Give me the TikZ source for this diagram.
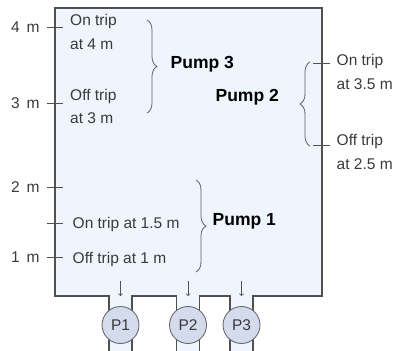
\documentclass[tikz,border=0pt]{standalone}
\usepackage{fontspec}
\setmainfont{Liberation Sans}
\usetikzlibrary{arrows, positioning, decorations.pathreplacing}
\definecolor{tankfill}{HTML}{EEF5FC}
\definecolor{tankline}{HTML}{505050}
\definecolor{pumpfill}{HTML}{D3DBEC}
\definecolor{labelgray}{HTML}{3A3A3A}

\begin{document}
\begin{tikzpicture}[x=1pt, y=-1pt,
    note/.style={inner sep=0pt, anchor=base west, align=left, text=labelgray, font=\fontsize{15.5}{23.5}\selectfont},
    level/.style={inner sep=0pt, text=labelgray, font=\fontsize{15.5}{18}\selectfont},
    pumplabel/.style={inner sep=0pt, anchor=base west, font=\fontsize{17.5}{20}\selectfont\bfseries},
    pump/.style={circle, draw=tankline!85, fill=pumpfill, line width=0.9pt, minimum size=37pt, inner sep=0pt, text=labelgray, font=\fontsize{15.5}{18}\selectfont},
    tick/.style={draw=tankline, line width=0.9pt},
    bracket/.style={draw=tankline!90, line width=0.8pt, decorate, decoration={brace, amplitude=10pt}},
    flow/.style={->, >=to, draw=tankline, line width=0.8pt}]

\useasboundingbox (0,0) rectangle (398,350);

% tank and outlet pipes
\fill[tankfill] (55,8) rectangle (322,296);
\foreach \px in {120.5,188,241.5}
    \fill[tankfill] (\px-11.5,290) rectangle (\px+11.5,352);
\draw[tankline, line width=1.5pt] (109,352) |- (55,296) |- (322,8) |- (253,296) -- (253,352);
\draw[tankline, line width=1.5pt] (132,352) |- (176.5,296) -- (176.5,352);
\draw[tankline, line width=1.5pt] (199.5,352) |- (230,296) -- (230,352);

% pumps
\node[pump] (p1) at (120.5,325) {P1};
\node[pump] (p2) at (188,325) {P2};
\node[pump] (p3) at (241.5,325) {P3};
\foreach \n in {1,2,3}
    \draw[flow] ([yshift=25pt]p\n.north) -- ([yshift=10pt]p\n.north);

% level scale
\foreach \y/\lab in {27/4, 103/3, 187/2, 257/1}
    \draw[tick] (63,\y) -- (47,\y) node[level, left=7pt] {\lab\hspace{7pt}m};
\draw[tick] (63,223) -- (47,223);
\draw[tick] (313,63) -- (330,63);
\draw[tick] (313,145) -- (330,145);

% trip points
\node[note] (on3) at (70,49.5) {On trip\\at 4 m};
\node[note] (off3) at (70,123.5) {Off trip\\at 3 m};
\node[note] (on2) at (336.5,89) {On trip\\at 3.5 m};
\node[note] (off2) at (336.5,169) {Off trip\\at 2.5 m};
\node[note] (on1) at (72.5,228.3) {On trip at 1.5 m};
\node[note] (off1) at (72.5,263.3) {Off trip at 1 m};

% pump ranges
\coordinate (b3top) at (147,20);
\coordinate (b3bot) at (147,113);
\draw[bracket] (b3top) -- (b3bot);
\node[pumplabel] (pump3) at (170.5,68.3) {Pump 3};

\coordinate (b2top) at (310,62);
\coordinate (b2bot) at (310,146);
\draw[bracket] (b2bot) -- (b2top);
\node[pumplabel, anchor=base east] (pump2) at (279,102) {Pump 2};

\coordinate (b1top) at (196,180);
\coordinate (b1bot) at (196,272);
\draw[bracket] (b1top) -- (b1bot);
\node[pumplabel] (pump1) at (212.5,225.7) {Pump 1};
\end{tikzpicture}
\end{document}
